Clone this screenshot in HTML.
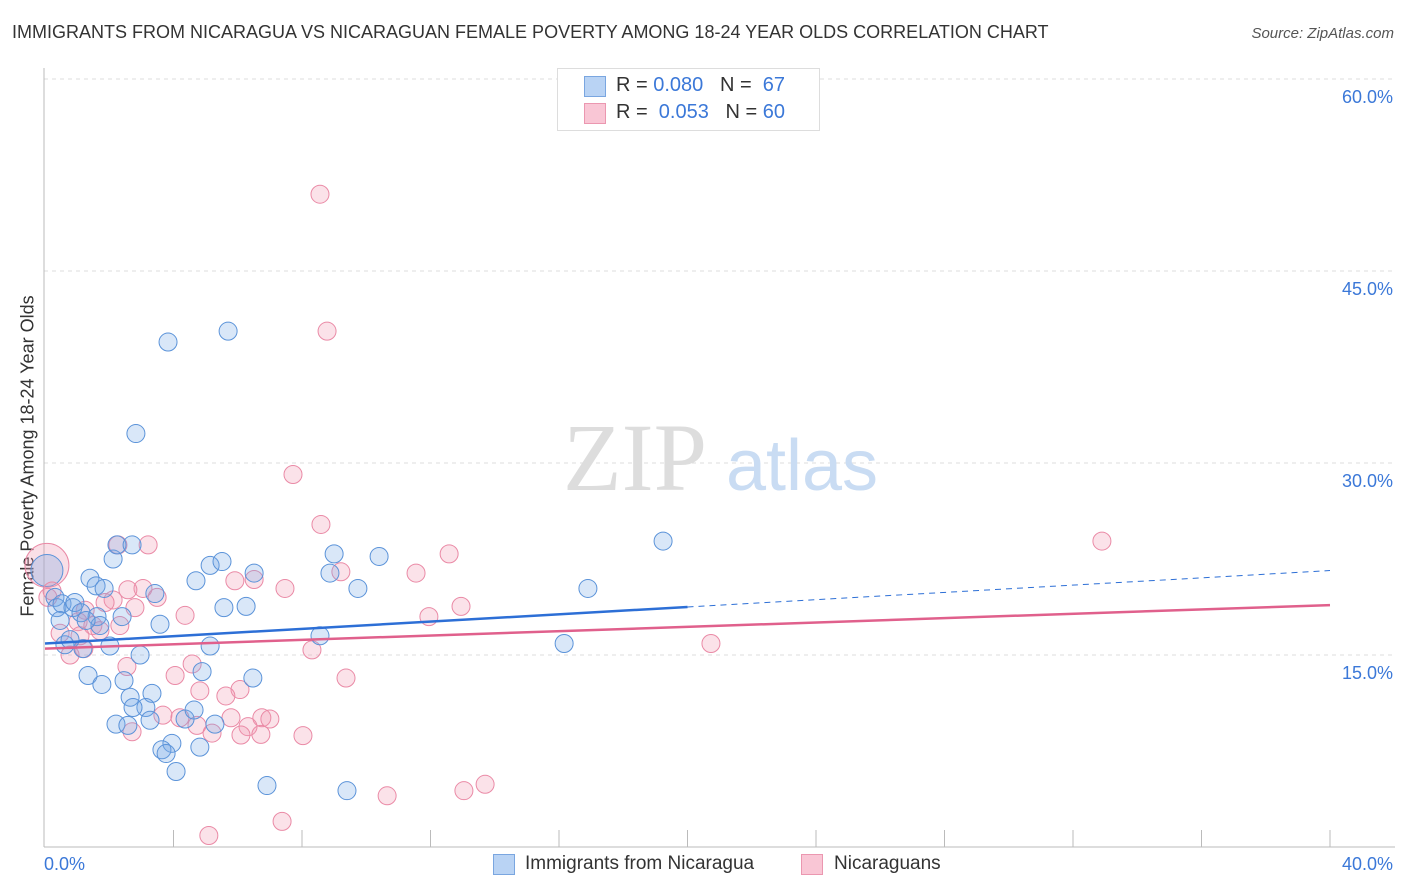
<!DOCTYPE html>
<html><head><meta charset="utf-8">
<style>
body{margin:0;background:#fff;font-family:"Liberation Sans",sans-serif;}
#wrap{position:relative;width:1406px;height:892px;overflow:hidden;}
.t{position:absolute;white-space:nowrap;}
</style></head>
<body>
<div id="wrap">
<div class="t" style="left:12px;top:22px;font-size:18px;color:#333;">IMMIGRANTS FROM NICARAGUA VS NICARAGUAN FEMALE POVERTY AMONG 18-24 YEAR OLDS CORRELATION CHART</div>
<div class="t" style="right:12px;top:25px;font-size:15px;color:#555;font-style:italic;">Source: ZipAtlas.com</div>
<div class="t" style="left:28px;top:456px;font-size:18px;color:#333;transform:translate(-50%,-50%) rotate(-90deg);">Female Poverty Among 18-24 Year Olds</div>
<svg id="chart" width="1406" height="892" style="position:absolute;left:0;top:0;"></svg>
<div style="position:absolute;left:557px;top:68px;width:261px;height:61px;border:1px solid #ddd;background:#fff;font-size:20px;">
  <div style="position:absolute;left:26px;top:7px;width:20px;height:19px;background:#b9d3f4;border:1px solid #7aa6e0;"></div>
  <div class="t" style="left:58px;top:5px;color:#333;">R = <span style="color:#3b78d8">0.080</span>&nbsp;&nbsp;&nbsp;N = &nbsp;<span style="color:#3b78d8">67</span></div>
  <div style="position:absolute;left:26px;top:34px;width:20px;height:19px;background:#f9c6d5;border:1px solid #eb97b0;"></div>
  <div class="t" style="left:58px;top:32px;color:#333;">R = &nbsp;<span style="color:#3b78d8">0.053</span>&nbsp;&nbsp;&nbsp;N = <span style="color:#3b78d8">60</span></div>
</div>
<div style="position:absolute;left:493px;top:854px;width:20px;height:19px;background:#b9d3f4;border:1px solid #7aa6e0;"></div>
<div class="t" style="left:525px;top:853px;font-size:19px;color:#333;">Immigrants from Nicaragua</div>
<div style="position:absolute;left:801px;top:854px;width:20px;height:19px;background:#f9c6d5;border:1px solid #eb97b0;"></div>
<div class="t" style="left:834px;top:853px;font-size:19px;color:#333;">Nicaraguans</div>
</div>
<script>
const xTicks=[0,40];
const yTicks=[15,30,45,60];
const blueX=[3.83,5.70,2.83,19.24,2.12,2.24,5.14,5.51,6.51,9.0,8.87,10.4,9.74,16.9,1.40,1.59,1.84,4.70,3.42,6.26,5.57,3.58,2.40,0.31,0.37,0.53,0.47,0.87,0.93,1.12,1.62,1.71,0.62,1.18,2.02,5.14,8.56,16.16,2.96,1.34,1.77,2.46,4.89,6.47,2.65,3.33,3.14,2.74,2.21,2.58,3.27,4.36,4.64,5.29,3.95,3.64,3.77,4.82,4.08,6.91,9.40,0.78,1.28,2.71];
const blueY=[39.45,40.3,32.3,23.9,22.5,23.6,22.0,22.3,21.4,22.9,21.4,22.7,20.2,20.2,21.0,20.4,20.2,20.8,19.8,18.8,18.7,17.4,18.0,19.5,18.7,19.0,17.7,18.7,19.1,18.3,18.0,17.3,15.8,15.5,15.7,15.7,16.5,15.9,15.0,13.4,12.7,13.0,13.7,13.2,11.7,12.0,10.9,10.9,9.6,9.5,9.9,10.0,10.7,9.6,8.1,7.6,7.3,7.8,5.9,4.8,4.4,16.2,17.7,23.6];
const pinkX=[8.56,8.78,7.72,8.59,32.9,3.21,2.27,12.58,9.21,11.55,5.91,6.51,3.05,2.12,3.49,2.58,1.87,7.47,12.95,4.36,11.95,1.25,1.03,1.49,0.47,1.71,0.78,1.21,8.31,20.73,2.55,4.58,4.05,9.37,6.07,4.82,5.63,3.67,4.20,5.79,6.75,2.71,6.32,4.73,5.20,6.10,6.72,8.03,7.0,13.7,13.04,10.65,7.38,5.1,0.09,0.22,1.09,2.8,2.33];
const pinkY=[51.0,40.3,29.1,25.2,23.9,23.6,23.6,22.9,21.5,21.4,20.8,20.9,20.2,19.3,19.5,20.1,19.1,20.2,18.8,18.1,18.0,18.5,17.6,17.3,16.7,16.9,15.0,15.5,15.4,15.9,14.1,14.3,13.4,13.2,12.3,12.2,11.8,10.3,10.1,10.1,10.1,9.0,9.4,9.5,8.9,8.75,8.8,8.7,10.0,4.9,4.4,4.0,2.0,0.9,19.5,20.0,16.5,18.7,17.3];
const bigBlue=[0.06,21.6];
const bigPink=[0.06,22.0];
const blueTrend=[15.9,21.6];
const pinkTrend=[15.5,18.9];
const blueSolidEnd=20;

const X0=45,X1=1330,Y0=847,Y60=79;
const sx=v=>X0+(v/40)*(X1-X0);
const sy=v=>Y0-(v/60)*(Y0-Y60);
const svg=document.getElementById('chart');
const NS='http://www.w3.org/2000/svg';
function mk(tag,attrs){const e=document.createElementNS(NS,tag);for(const k in attrs)e.setAttribute(k,attrs[k]);svg.appendChild(e);return e;}

yTicks.forEach(v=>{
  const g=mk('line',{x1:44,x2:1395,y1:sy(v),y2:sy(v),stroke:'#ddd','stroke-dasharray':'4,4'});
  
  
  const t=mk('text',{x:1393,y:sy(v)+24,'text-anchor':'end','font-size':18,fill:'#3b78d8','font-family':'Liberation Sans, sans-serif'});
  t.textContent=v.toFixed(1)+'%';
  
  
});
const ax=mk('line',{x1:44,x2:44,y1:68,y2:847,stroke:'#bbb'});


const bx=mk('line',{x1:44,x2:1395,y1:847,y2:847,stroke:'#bbb'});


for(let i=1;i<=10;i++){
  const tk=mk('line',{x1:sx(i*4),x2:sx(i*4),y1:830,y2:847,stroke:'#bbb'});
  
  
}
xTicks.forEach((v,i)=>{
  const t=mk('text',{x:i==0?44:1393,y:870,'text-anchor':i==0?'start':'end','font-size':18,fill:'#3b78d8','font-family':'Liberation Sans, sans-serif'});
  t.textContent=v.toFixed(1)+'%';
  
  
});
const w1=mk('text',{x:635,y:490,'text-anchor':'middle','font-size':96,fill:'#ddd','font-family':'Liberation Serif, serif'});
w1.textContent='ZIP';


const w2=mk('text',{x:802,y:490,'text-anchor':'middle','font-size':72,fill:'#c9dcf3','font-family':'Liberation Sans, sans-serif'});
w2.textContent='atlas';



const bb=mk('circle',{cx:sx(bigPink[0]),cy:sy(bigPink[1]),r:22,fill:'rgba(240,150,175,0.3)',stroke:'#ea8aa6','stroke-width':1});


const bbl=mk('circle',{cx:sx(bigBlue[0]),cy:sy(bigBlue[1]),r:16,fill:'rgba(120,170,230,0.3)',stroke:'#5b93d9','stroke-width':1});



pinkX.forEach((v,i)=>{
  const c=mk('circle',{cx:sx(v),cy:sy(pinkY[i]),r:9,fill:'rgba(240,150,175,0.28)',stroke:'#ea8aa6','stroke-width':1});
  
  
});
blueX.forEach((v,i)=>{
  const c=mk('circle',{cx:sx(v),cy:sy(blueY[i]),r:9,fill:'rgba(120,170,230,0.28)',stroke:'#5b93d9','stroke-width':1});
  
  
});
const bt=v=>blueTrend[0]+(blueTrend[1]-blueTrend[0])*v/40;
const l1=mk('line',{x1:sx(0),y1:sy(bt(0)),x2:sx(blueSolidEnd),y2:sy(bt(blueSolidEnd)),stroke:'#2d6fd6','stroke-width':2.5});


const l2=mk('line',{x1:sx(blueSolidEnd),y1:sy(bt(blueSolidEnd)),x2:sx(40),y2:sy(bt(40)),stroke:'#2d6fd6','stroke-width':1,'stroke-dasharray':'6,5'});


const l3=mk('line',{x1:sx(0),y1:sy(pinkTrend[0]),x2:sx(40),y2:sy(pinkTrend[1]),stroke:'#e0608c','stroke-width':2.5});


</script>
</body></html>
